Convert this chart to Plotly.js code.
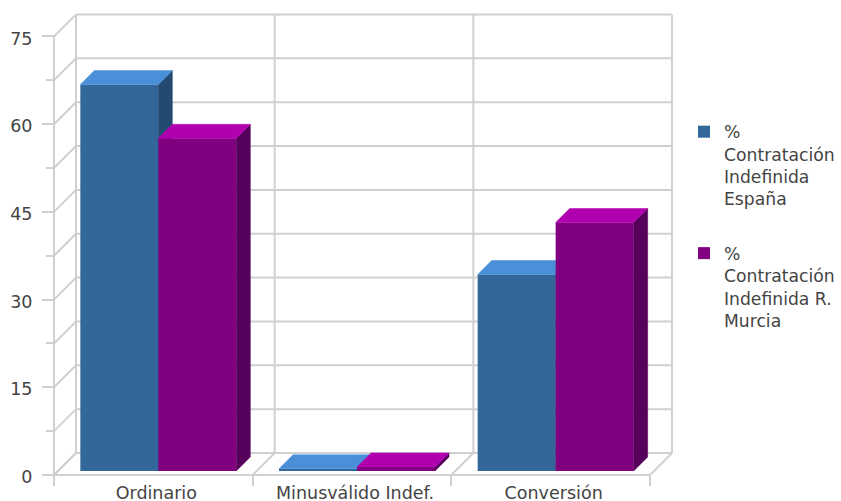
<!DOCTYPE html>
<html>
<head>
<meta charset="utf-8">
<script src="https://cdn.plot.ly/plotly-3.0.1.min.js"></script>
<style>html,body{margin:0;padding:0;background:#fff}</style>
</head>
<body>
<div id="chart" style="width:841px;height:501px"></div>
<script>
const categories = ['Ordinario', 'Minusválido Indef.', 'Conversión'];
const seriesEspana = [66.1, 0.4, 33.6];
const seriesMurcia = [56.9, 0.7, 42.5];
const nameEspana = '%<br>Contratación<br>Indefinida<br>España';
const nameMurcia = '%<br>Contratación<br>Indefinida R.<br>Murcia';
const majorTicks = [0, 15, 30, 45, 60, 75];
const minorTicks = [7.5, 22.5, 37.5, 52.5, 67.5];
const gridValues = [0, 7.5, 15, 22.5, 30, 37.5, 45, 52.5, 60, 67.5, 75];
const catEdges = [-0.5, 0.5, 1.5, 2.5];

// scales (pixels per data unit)
const W = 841, H = 501;
const plotL = 44, plotR = 682, plotT = 6, plotB = 484;
const axisX = 54, axisY = 475;
const pxX = 198.67, pxY = 5.847;
const wallX = 22 / pxX, wallY = 22 / pxY;      // depth of chart box
const barDX = 14 / pxX, barDY = 14 / pxY;      // depth of bars
const inset = 4 / pxY;                          // base of bars above floor
const barW = 78 / pxX, groupShift = 5 / pxX;
const GRID = '#d0d0d0', TEXT = '#444444';
const FONT = '"DejaVu Sans", sans-serif';
const FS = 17.5, LEGEND_FS = 17.2;

const xRange = [-0.5 - (axisX - plotL) / pxX, -0.5 + (plotR - axisX) / pxX];
const yRange = [-(plotB - axisY) / pxY, (axisY - plotT) / pxY];

function seg(x0, y0, x1, y1) {
  return {type: 'line', layer: 'below', xref: 'x', yref: 'y', x0, y0, x1, y1,
          line: {color: GRID, width: 2}};
}
const shapes = [];
gridValues.forEach(v => {
  shapes.push(seg(-0.5, v, -0.5 + wallX, v + wallY));
  shapes.push(seg(-0.5 + wallX, v + wallY, 2.5 + wallX, v + wallY));
});
catEdges.forEach(e => {
  shapes.push(seg(e, 0, e + wallX, wallY));
  shapes.push(seg(e + wallX, wallY, e + wallX, 75 + wallY));
});
shapes.push(seg(-0.5, 0, -0.5, 75));
shapes.push(seg(-0.5, 0, 2.5, 0));

function faces(values, offset) {
  const side = {x: [], y: []}, top = {x: [], y: []};
  values.forEach((v, i) => {
    const l = i + groupShift + offset, r = l + barW, b = inset, t = inset + v;
    side.x.push(r, r + barDX, r + barDX, r, r, null);
    side.y.push(b, b + barDY, t + barDY, t, b, null);
    top.x.push(l, l + barDX, r + barDX, r, l, null);
    top.y.push(t, t + barDY, t + barDY, t, t, null);
  });
  return {side, top};
}
function series(values, name, offset, xa, ya, front, sideC, topC, group) {
  const f = faces(values, offset);
  const poly = (p, c) => ({type: 'scatter', mode: 'lines', x: p.x, y: p.y, xaxis: xa, yaxis: ya,
    fill: 'toself', fillcolor: c, line: {width: 0.5, color: c}, hoverinfo: 'skip',
    showlegend: false, cliponaxis: false});
  return [
    {type: 'bar', name, x: values.map((_, i) => i + groupShift + offset + barW / 2), y: values,
     base: values.map(() => inset), width: barW, xaxis: xa, yaxis: ya,
     marker: {color: front, line: {width: 0}}, legendgroup: group},
    poly(f.side, sideC), poly(f.top, topC)
  ];
}

const data = [
  ...series(seriesEspana, nameEspana, -barW, 'x', 'y', '#336699', '#234a70', '#4a90d9', 'a'),
  ...series(seriesMurcia, nameMurcia, 0, 'x2', 'y2', '#800080', '#55005a', '#b000b0', 'b')
];

const layout = {
  width: W, height: H,
  margin: {l: plotL, r: W - plotR, t: plotT, b: H - plotB, pad: 0, autoexpand: false},
  paper_bgcolor: '#fff', plot_bgcolor: 'rgba(0,0,0,0)',
  font: {family: FONT, size: FS, color: TEXT},
  barmode: 'overlay',
  showlegend: true,
  legend: {x: (684 - plotL) / (plotR - plotL), y: (H - 114 - (H - plotB)) / (plotB - plotT), xanchor: 'left', yanchor: 'top',
           valign: 'top', tracegroupgap: 29, font: {family: FONT, size: LEGEND_FS, color: TEXT}, bgcolor: 'rgba(0,0,0,0)'},
  shapes,
  xaxis: {range: xRange, anchor: 'free', position: (plotB - axisY) / (plotB - plotT),
          tickmode: 'array', tickvals: [0, 1, 2], ticktext: categories, ticks: '', ticklen: 0,
          ticklabelstandoff: 5, ticklabelshift: 3, showgrid: false, zeroline: false, showline: false, fixedrange: true,
          tickfont: {family: FONT, size: FS, color: TEXT},
          minor: {tickmode: 'array', tickvals: catEdges, ticks: 'outside', ticklen: 10, tickwidth: 2, tickcolor: GRID, showgrid: false}},
  yaxis: {range: yRange, anchor: 'free', position: (axisX - plotL) / (plotR - plotL),
          tickmode: 'array', tickvals: majorTicks, ticktext: majorTicks.map(String), ticks: 'outside', ticklen: 12, tickwidth: 2, tickcolor: GRID,
          ticklabelstandoff: 6, ticklabelshift: 2, showgrid: false, zeroline: false, showline: false, fixedrange: true,
          tickfont: {family: FONT, size: FS, color: TEXT},
          minor: {tickmode: 'array', tickvals: minorTicks, ticks: 'outside', ticklen: 8, tickwidth: 2, tickcolor: GRID, showgrid: false}},
  xaxis2: {range: xRange, overlaying: 'x', anchor: 'y2', visible: false, fixedrange: true},
  yaxis2: {range: yRange, overlaying: 'y', anchor: 'x2', visible: false, fixedrange: true}
};
Plotly.newPlot('chart', data, layout, {displayModeBar: false, responsive: false});
</script>
</body>
</html>
